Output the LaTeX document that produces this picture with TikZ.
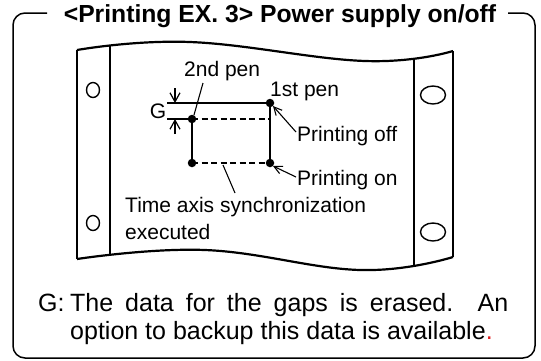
\documentclass[tikz,border=0pt]{standalone}
\usepackage{fontspec}
\setmainfont{Liberation Sans}
\usetikzlibrary{arrows.meta}
\definecolor{dotred}{RGB}{225,30,30}
\begin{document}
\begin{tikzpicture}[x=1pt,y=-1pt,
  lbl/.style={font=\fontsize{21}{25}\selectfont, inner sep=0pt, anchor=base west},
  keytext/.style={font=\fontsize{25}{30}\selectfont, inner sep=0pt, anchor=base west},
  pendot/.style={circle, fill=black, inner sep=0pt, minimum size=8.5pt},
  penline/.style={line width=2pt},
  tickline/.style={line width=1.3pt},
  gapline/.style={line width=1.1pt, dash pattern=on 6pt off 3.5pt},
  leader/.style={line width=1.1pt},
  ptr/.style={line width=1.1pt, -{Straight Barb[length=8pt,width=8pt]}},
  garrow/.style={line width=1.2pt, -{Straight Barb[length=9pt,width=10pt]}},
  hole/.style={line width=1.4pt},
  edge/.style={line width=1.4pt},
  wave/.style={line width=2.2pt},
  frame/.style={line width=1.5pt, rounded corners=12pt}
]
\useasboundingbox (0,0) rectangle (541,360);

% outer frame and title
\node[font=\bfseries\fontsize{24.7}{28}\selectfont, anchor=base, inner sep=0pt] (title) at (280,22) {<Printing EX. 3> Power supply on/off};
\draw[frame] (47,13) -- (13,13) -- (13,358) -- (535,358) -- (535,13) -- (508,13);

% paper
\begin{scope}
  \clip plot[smooth, tension=0.7] coordinates {(77,50) (190,42) (365,61) (453,51)}
     -- plot[smooth, tension=0.7] coordinates {(453,257) (360,270) (205,250) (77,259)} -- cycle;
  \draw[edge] (110,0) -- (110,360);
  \draw[edge] (414,0) -- (414,360);
\end{scope}
\draw[edge] (77,50) -- (77,259);
\draw[edge] (453,51) -- (453,257);
\draw[wave] plot[smooth, tension=0.7] coordinates {(77,50) (190,42) (365,61) (453,51)};
\draw[wave] plot[smooth, tension=0.7] coordinates {(77,259) (205,250) (360,270) (453,257)};

% holes
\draw[hole] (93,90) ellipse [x radius=6.5, y radius=7.5];
\draw[hole] (93,223) ellipse [x radius=6.5, y radius=7.5];
\draw[hole] (433,95) ellipse [x radius=12.5, y radius=9];
\draw[hole] (433,232) ellipse [x radius=12.5, y radius=9];

% pen traces
\node[pendot] (p1a) at (270,103) {};
\node[pendot] (p1b) at (270,163) {};
\node[pendot] (p2a) at (192,119) {};
\node[pendot] (p2b) at (192,163) {};
\coordinate (gl1) at (167,103);
\coordinate (gl2) at (167,119);
\coordinate (dashend) at (270,119);
\draw[penline] (p1a.center) -- (p1b.center);
\draw[penline] (p2a.center) -- (p2b.center);
\draw[tickline] (gl1) -- (p1a.center);
\draw[tickline] (gl2) -- (p2a.center);
\draw[gapline] (p2a.center) -- (dashend);
\draw[gapline] (p2b.center) -- (p1b.center);

% G marker
\node[font=\fontsize{21}{25}\selectfont, inner sep=0pt] (glbl) at (158,111) {G};
\coordinate (ga1) at (175,88);
\coordinate (ga1t) at (175,103);
\coordinate (ga2) at (175,134);
\coordinate (ga2t) at (175,119);
\draw[garrow] (ga1) -- (ga1t);
\draw[garrow] (ga2) -- (ga2t);

% labels
\node[lbl] (lbl2nd) at (184,76) {2nd pen};
\node[lbl] (lbl1st) at (270,96) {1st pen};
\node[lbl] (lbloff) at (297,141) {Printing off};
\node[lbl] (lblon) at (297,185) {Printing on};
\node[lbl] (lbltime) at (125,212) {Time axis synchronization};
\node[lbl] (lblexec) at (125,239) {executed};

% leaders
\coordinate (l2a) at (203,83);
\coordinate (l2b) at (194,115);
\draw[leader] (l2a) -- (l2b);
\coordinate (loffs) at (296,132);
\coordinate (lofft) at (273,106);
\draw[ptr] (loffs) -- (lofft);
\coordinate (lons) at (296,177);
\coordinate (lont) at (273,166);
\draw[ptr] (lons) -- (lont);
\coordinate (lts) at (223,165);
\coordinate (lte) at (235,193);
\draw[leader] (lts) -- (lte);

% note
\node[keytext] (gkey) at (38,311) {G:};
\node[keytext] (note1) at (70,311) {\makebox[438pt][s]{The data for the gaps is erased. An}};
\node[keytext] (note2) at (70,339) {option to backup this data is available\textcolor{dotred}{.}};
\end{tikzpicture}
\end{document}
